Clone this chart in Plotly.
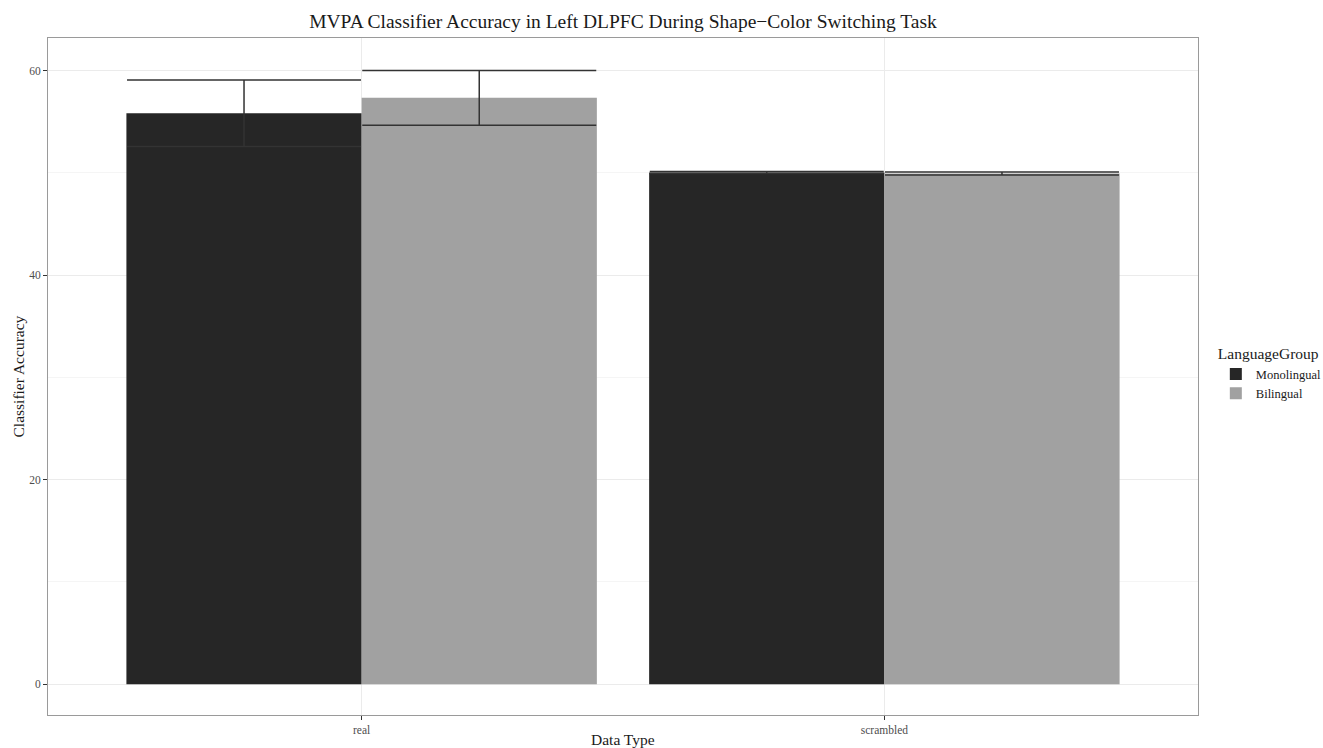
import plotly.graph_objects as go

# ---- data ----
categories = ["real", "scrambled"]
groups = ["Monolingual", "Bilingual"]
mono_mean = [55.85, 50.05]
mono_se = [3.25, 0.10]
bili_mean = [57.35, 49.95]
bili_se = [2.68, 0.15]
y_ticks = [0, 20, 40, 60]

title_text = "MVPA Classifier Accuracy in Left DLPFC During Shape\u2212Color Switching Task"

FONT = "Liberation Serif, Times New Roman, serif"
bar_colors = {"Monolingual": "#262626", "Bilingual": "#a1a1a1"}

fig = go.Figure()
for name, means, ses in [("Monolingual", mono_mean, mono_se), ("Bilingual", bili_mean, bili_se)]:
    fig.add_trace(go.Bar(
        x=categories, y=means, name=name,
        marker=dict(color=bar_colors[name], line=dict(width=0)),
        error_y=dict(type="data", array=ses, visible=True,
                     color="#333333", thickness=1.5, width=117),
    ))

fig.update_layout(
    width=1323, height=748, autosize=False,
    barmode="group", bargap=0.1, bargroupgap=0,
    plot_bgcolor="white", paper_bgcolor="white",
    margin=dict(l=48, r=125, t=38, b=33, autoexpand=False),
    font=dict(family=FONT, color="#1a1a1a"),
    title=dict(text=title_text, x=0.5, xref="paper", xanchor="center",
               y=1 - 21 / 748, yref="container", yanchor="middle",
               font=dict(family=FONT, size=19.5, color="#1a1a1a")),
    showlegend=True,
    legend=dict(
        title=dict(text="LanguageGroup", font=dict(family=FONT, size=15.5, color="#1a1a1a")),
        font=dict(family=FONT, size=12.5, color="#1a1a1a"),
        x=1.0155, xanchor="left", y=0.555, yanchor="top",
        bgcolor="rgba(0,0,0,0)", tracegroupgap=0, itemwidth=30,
    ),
)

fig.update_xaxes(
    type="category", range=[-0.6, 1.6], automargin=False,
    showgrid=True, gridcolor="#ebebeb", gridwidth=1,
    showline=True, linecolor="#9a9a9a", linewidth=1, mirror=True,
    ticks="outside", ticklen=4, tickcolor="#333333", tickwidth=1,
    tickfont=dict(family=FONT, size=11.5, color="#4d4d4d"),
    zeroline=False,
)
fig.update_yaxes(
    range=[-3.01, 63.2], automargin=False,
    tickvals=y_ticks, ticktext=[str(v) for v in y_ticks],
    showgrid=True, gridcolor="#ebebeb", gridwidth=1,
    minor=dict(dtick=10, tick0=0, showgrid=True, gridcolor="#f5f5f5", gridwidth=1, ticks=""),
    showline=True, linecolor="#9a9a9a", linewidth=1, mirror=True,
    ticks="outside", ticklen=4, tickcolor="#333333", tickwidth=1,
    tickfont=dict(family=FONT, size=11.5, color="#4d4d4d"),
    zeroline=False,
)

# axis titles
fig.add_annotation(text="Data Type", xref="paper", yref="paper", x=0.5, y=-(739 - 715) / 677,
                   xanchor="center", yanchor="middle", showarrow=False,
                   font=dict(family=FONT, size=15.5, color="#1a1a1a"))
fig.add_annotation(text="Classifier Accuracy", xref="paper", yref="paper",
                   x=-(48 - 18) / 1150, y=0.5, textangle=-90,
                   xanchor="center", yanchor="middle", showarrow=False,
                   font=dict(family=FONT, size=15.5, color="#1a1a1a"))

fig.write_html(
    "out.html",
    config={"responsive": False, "displayModeBar": False},
    post_script="document.body.style.margin='0';document.body.style.overflow='hidden';",
)
